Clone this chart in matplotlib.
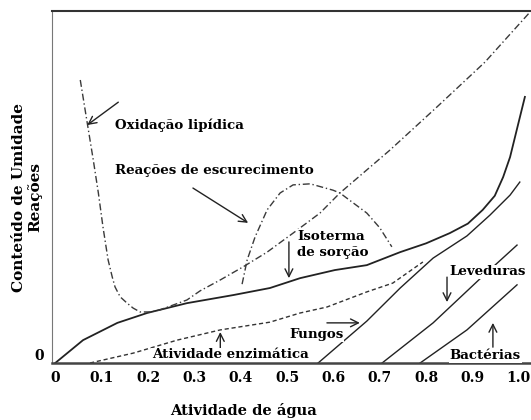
import matplotlib
matplotlib.use("Agg")
import matplotlib.pyplot as plt

plt.rcParams['font.family'] = ['DejaVu Serif']
plt.rcParams['font.weight'] = 'bold'

# Curvas (atividade de água, nível relativo 0-100)
iso_x = [0.0, 0.06, 0.134, 0.198, 0.284, 0.384, 0.463, 0.528, 0.603, 0.672,
         0.744, 0.80, 0.851, 0.89, 0.922, 0.948, 0.966, 0.981, 0.998, 1.013]
iso_y = [0, 6.5, 11.4, 14.2, 17.0, 19.3, 21.3, 24.1, 26.4, 27.8,
         31.5, 34.0, 36.9, 39.6, 43.5, 47.5, 52.8, 58.5, 67.6, 75.6]

oxi_x = [0.054, 0.069, 0.082, 0.093, 0.103, 0.114, 0.123, 0.129, 0.140, 0.155,
         0.168, 0.183, 0.205, 0.226, 0.284, 0.3125, 0.356, 0.405, 0.457, 0.513,
         0.571, 0.614, 0.722, 0.823, 0.927, 1.024]
oxi_y = [80.4, 68.2, 57.7, 48.3, 38.6, 29.3, 24.4, 21.6, 18.8, 17.0,
         15.6, 14.5, 14.5, 15.1, 17.9, 20.5, 23.6, 27.3, 31.5, 36.9,
         42.6, 48.3, 60.5, 72.7, 85.5, 99.7]

esc_x = [0.403, 0.414, 0.431, 0.457, 0.485, 0.513, 0.550, 0.599, 0.614, 0.672,
         0.700, 0.726]
esc_y = [22.4, 29.3, 35.8, 43.5, 48.3, 50.6, 50.9, 49.1, 48.3, 42.6,
         38.4, 33.0]

enz_x = [0.075, 0.168, 0.263, 0.356, 0.463, 0.528, 0.586, 0.672, 0.728, 0.793]
enz_y = [0, 2.8, 6.5, 9.4, 11.6, 14.2, 15.9, 20.2, 22.7, 28.7]

fun_x = [0.567, 0.672, 0.744, 0.815, 0.888, 0.9375, 0.981, 1.002]
fun_y = [0, 11.9, 21.3, 29.8, 36.1, 42.0, 47.7, 51.4]

lev_x = [0.705, 0.815, 0.916, 0.996]
lev_y = [0, 11.4, 23.9, 33.5]

bac_x = [0.787, 0.888, 0.996]
bac_y = [0, 9.4, 22.2]

xticks = [0, 0.1, 0.2, 0.3, 0.4, 0.5, 0.6, 0.7, 0.8, 0.9, 1.0]
xtick_labels = ['0', '0.1', '0.2', '0.3', '0.4', '0.5', '0.6', '0.7', '0.8', '0.9', '1.0']

# Rótulos: texto, posição do texto, (cauda da seta, ponta da seta)
labels = ['Oxidação lipídica', 'Reações de escurecimento', 'Isoterma\nde sorção',
          'Leveduras', 'Fungos', 'Atividade enzimática', 'Bactérias']
label_pos = [(0.129, 67.6), (0.129, 54.8), (0.522, 33.8),
             (0.851, 25.9), (0.504, 8.0), (0.209, 2.3), (0.851, 2.0)]
arrows = [((0.136, 74.1), (0.069, 67.6)),
          ((0.297, 49.7), (0.416, 39.8)),
          ((0.504, 34.4), (0.504, 24.1)),
          ((0.845, 24.4), (0.845, 17.3)),
          ((0.586, 11.4), (0.657, 11.4)),
          ((0.356, 3.4), (0.356, 8.8)),
          ((0.944, 4.5), (0.944, 11.4))]

fig = plt.figure(figsize=(5.31, 4.20), dpi=100)
ax = fig.add_axes([52 / 531, 57 / 420, 478 / 531, 352 / 420])

ax.plot(iso_x, iso_y, color='#222222', lw=1.3)
ax.plot(oxi_x, oxi_y, color='#3a3a3a', lw=1.0, linestyle=(0, (5, 2, 1, 2)))
ax.plot(esc_x, esc_y, color='#3a3a3a', lw=1.0, linestyle=(0, (5, 2, 1, 2)))
ax.plot(enz_x, enz_y, color='#333333', lw=1.0, linestyle=(0, (3, 2)))
ax.plot(fun_x, fun_y, color='#222222', lw=1.0)
ax.plot(lev_x, lev_y, color='#222222', lw=1.0)
ax.plot(bac_x, bac_y, color='#222222', lw=1.0)

for txt, pos in zip(labels, label_pos):
    ax.text(pos[0], pos[1], txt, fontsize=9.6, fontweight='bold',
            ha='left', va='center', linespacing=1.3, zorder=4,
            bbox=dict(facecolor='white', edgecolor='none', pad=0.5))

for tail, head in arrows:
    ax.annotate('', xy=head, xytext=tail,
                arrowprops=dict(arrowstyle='->', lw=1.0, color='#222222',
                                shrinkA=0, shrinkB=0, mutation_scale=14))

ax.set_xlim(-0.007, 1.024)
ax.set_ylim(0, 100)
ax.set_xticks(xticks)
ax.set_xticklabels(xtick_labels, fontsize=10, fontweight='bold')
ax.set_yticks([0])
ax.set_yticklabels(['0'], fontsize=10, fontweight='bold', va='bottom')
ax.tick_params(length=0, pad=6)

ax.spines['right'].set_visible(False)
ax.spines['top'].set_color('#333333')
ax.spines['top'].set_linewidth(1.5)
ax.spines['left'].set_color('#777777')
ax.spines['bottom'].set_color('#444444')
ax.spines['bottom'].set_linewidth(1.8)

fig.text(243 / 531, 1 - 410 / 420, 'Atividade de água', fontsize=10.5,
         fontweight='bold', ha='center', va='center')
fig.text(27 / 531, 1 - 197 / 420, 'Conteúdo de Umidade\nReações', fontsize=11,
         fontweight='bold', ha='center', va='center', rotation=90,
         multialignment='center', linespacing=1.1)

fig.savefig('out.png', dpi=100)
